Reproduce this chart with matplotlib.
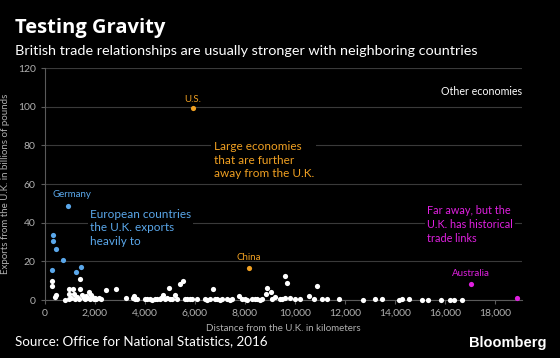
import matplotlib
matplotlib.use('Agg')
import matplotlib.pyplot as plt

plt.rcParams['font.family'] = 'Lato'

# European countries (km, billions of pounds)
eu_dist = [920, 333, 347, 467, 733, 307, 1267, 1440]
eu_exp = [48.6, 33.8, 30.7, 26.4, 20.9, 15.5, 14.3, 17.2]

# large economies further away
us_dist, us_exp = 5933, 99.5
china_dist, china_exp = 8173, 16.6

# far away, historical links
far_dist = [17040, 18880]
far_exp = [8.3, 0.9]

# other economies
other_dist = [280, 280, 427, 453, 960, 1147, 1427, 1413, 973, 1150, 800, 960, 1060, 1293,
              1200, 1350, 1500, 1550, 1600, 1650, 1700, 1760, 1800, 1850, 1900, 1950, 2000,
              2050, 2150, 2250, 2467, 2840, 3240, 3520, 3560, 3600, 3700, 4000, 4100, 4200,
              4300, 4400, 4500, 4600, 4650, 4733, 4800, 4900, 4973, 5000, 5100, 5213, 5300,
              5400, 5507, 5600, 5700, 5800, 5900, 6100, 6400, 6500, 6600, 6707, 6800, 6900,
              7000, 7100, 7300, 7400, 7500, 7773, 7900, 8000, 8100, 8300, 8400, 8500, 8600,
              8700, 8827, 8893, 9040, 9100, 9200, 9400, 9500, 9600, 9667, 9587, 9800, 10000,
              10200, 10573, 10773, 10893, 11100, 11300, 11747, 12733, 13213, 13480, 14180,
              14270, 14560, 15080, 15320, 15853, 16200, 16360, 16693]
other_exp = [9.7, 7.2, 1.7, 2.4, 5.7, 5.7, 5.7, 10.7, 3.1, 3.0, 0.2, 0.3, 0.8, 1.4,
             0.5, 0.6, 2.5, 1.0, 0.4, 2.0, 1.2, 4.3, 0.3, 2.8, 1.5, 0.5, 0.8,
             0.3, 1.2, 0.4, 5.2, 5.5, 0.9, 1.0, 2.0, 0.6, 0.4, 0.5, 0.3, 0.6,
             0.2, 0.4, 0.3, 0.5, 1.0, 2.7, 0.3, 0.8, 6.2, 0.4, 0.3, 2.7, 0.5,
             8.3, 9.7, 0.6, 0.3, 0.5, 0.4, 0.6, 0.3, 0.2, 0.4, 5.5, 0.3, 0.5,
             0.2, 0.4, 0.3, 0.2, 0.3, 2.0, 0.4, 0.3, 0.2, 0.5, 0.3, 0.4, 0.2,
             0.5, 3.0, 6.0, 4.3, 0.5, 1.5, 0.3, 0.4, 12.6, 8.6, 1.0, 1.2, 0.3,
             0.4, 2.0, 0.5, 7.2, 0.3, 0.4, 0.6, 0.2, 0.3, 0.5, 0.2,
             0.3, 0.4, 0.2, 0.2, 0.2, 0.2, 0.2, 0.2]

x_ticks = [0, 2000, 4000, 6000, 8000, 10000, 12000, 14000, 16000, 18000]
y_ticks = [0, 20, 40, 60, 80, 100, 120]

blue = '#5aa7ea'
orange = '#f0a022'
magenta = '#e020e0'
grey = '#b0b0b0'
box = dict(facecolor='black', edgecolor='none', pad=1.5)

fig = plt.figure(figsize=(5.6, 3.58), dpi=100, facecolor='black')
ax = fig.add_axes([0.080, 0.162, 0.852, 0.648])
ax.set_facecolor('black')

ax.scatter(other_dist, other_exp, s=14, color='white', zorder=3, clip_on=False, linewidths=0)
ax.scatter(eu_dist, eu_exp, s=14, color=blue, zorder=3, linewidths=0)
ax.scatter([us_dist, china_dist], [us_exp, china_exp], s=14, color=orange, zorder=3, linewidths=0)
ax.scatter(far_dist, far_exp, s=14, color=magenta, zorder=3, clip_on=False, linewidths=0)

ax.set_xlim(0, 19080)
ax.set_ylim(0, 120)
ax.set_xticks(x_ticks)
ax.set_xticklabels([f'{v:,}' for v in x_ticks])
ax.set_yticks(y_ticks)
ax.grid(axis='y', color='#3a3a3a', linewidth=0.8)
ax.set_axisbelow(True)
for s in ['top', 'right']:
    ax.spines[s].set_visible(False)
for s in ['left', 'bottom']:
    ax.spines[s].set_color('#5a5a5a')
ax.tick_params(colors='#5a5a5a', labelcolor=grey, labelsize=7.5, length=3)

ax.set_xlabel('Distance from the U.K. in kilometers', color=grey, fontsize=7, labelpad=4)
ax.set_ylabel('Exports from the U.K. in billions of pounds', color=grey, fontsize=7, labelpad=6)

# annotations
ax.text(us_dist, us_exp + 2, 'U.S.', color=orange, fontsize=7, ha='center', va='bottom')
ax.text(6750, 82, 'Large economies\nthat are further\naway from the U.K.', color=orange,
        fontsize=8.5, ha='left', va='top', linespacing=1.25, bbox=box)
ax.text(19080, 108, 'Other economies', color='white', fontsize=7.7, ha='right', va='center')
ax.text(320, 52, 'Germany', color=blue, fontsize=7, ha='left', va='bottom')
ax.text(1800, 47, 'European countries\nthe U.K. exports\nheavily to', color=blue,
        fontsize=8.5, ha='left', va='top', linespacing=1.25, bbox=box)
ax.text(china_dist, china_exp + 3, 'China', color=orange, fontsize=7, ha='center', va='bottom')
ax.text(15300, 49, 'Far away, but the\nU.K. has historical\ntrade links', color=magenta,
        fontsize=7.8, ha='left', va='top', linespacing=1.32, bbox=box)
ax.text(17040, 11.5, 'Australia', color=magenta, fontsize=7, ha='center', va='bottom')

fig.text(0.027, 0.923, 'Testing Gravity', color='white', fontsize=14.5, fontweight='bold',
         family='Open Sans', va='center', ha='left')
fig.text(0.027, 0.857, 'British trade relationships are usually stronger with neighboring countries',
         color='white', fontsize=10.4, va='center', ha='left')
fig.text(0.027, 0.047, 'Source: Office for National Statistics, 2016', color='white',
         fontsize=9.6, va='center', ha='left')
fig.text(0.975, 0.042, 'Bloomberg', color='white', fontsize=10.5, fontweight='bold',
         family='Liberation Sans', va='center', ha='right')

fig.savefig('out.png', dpi=100, facecolor='black')
